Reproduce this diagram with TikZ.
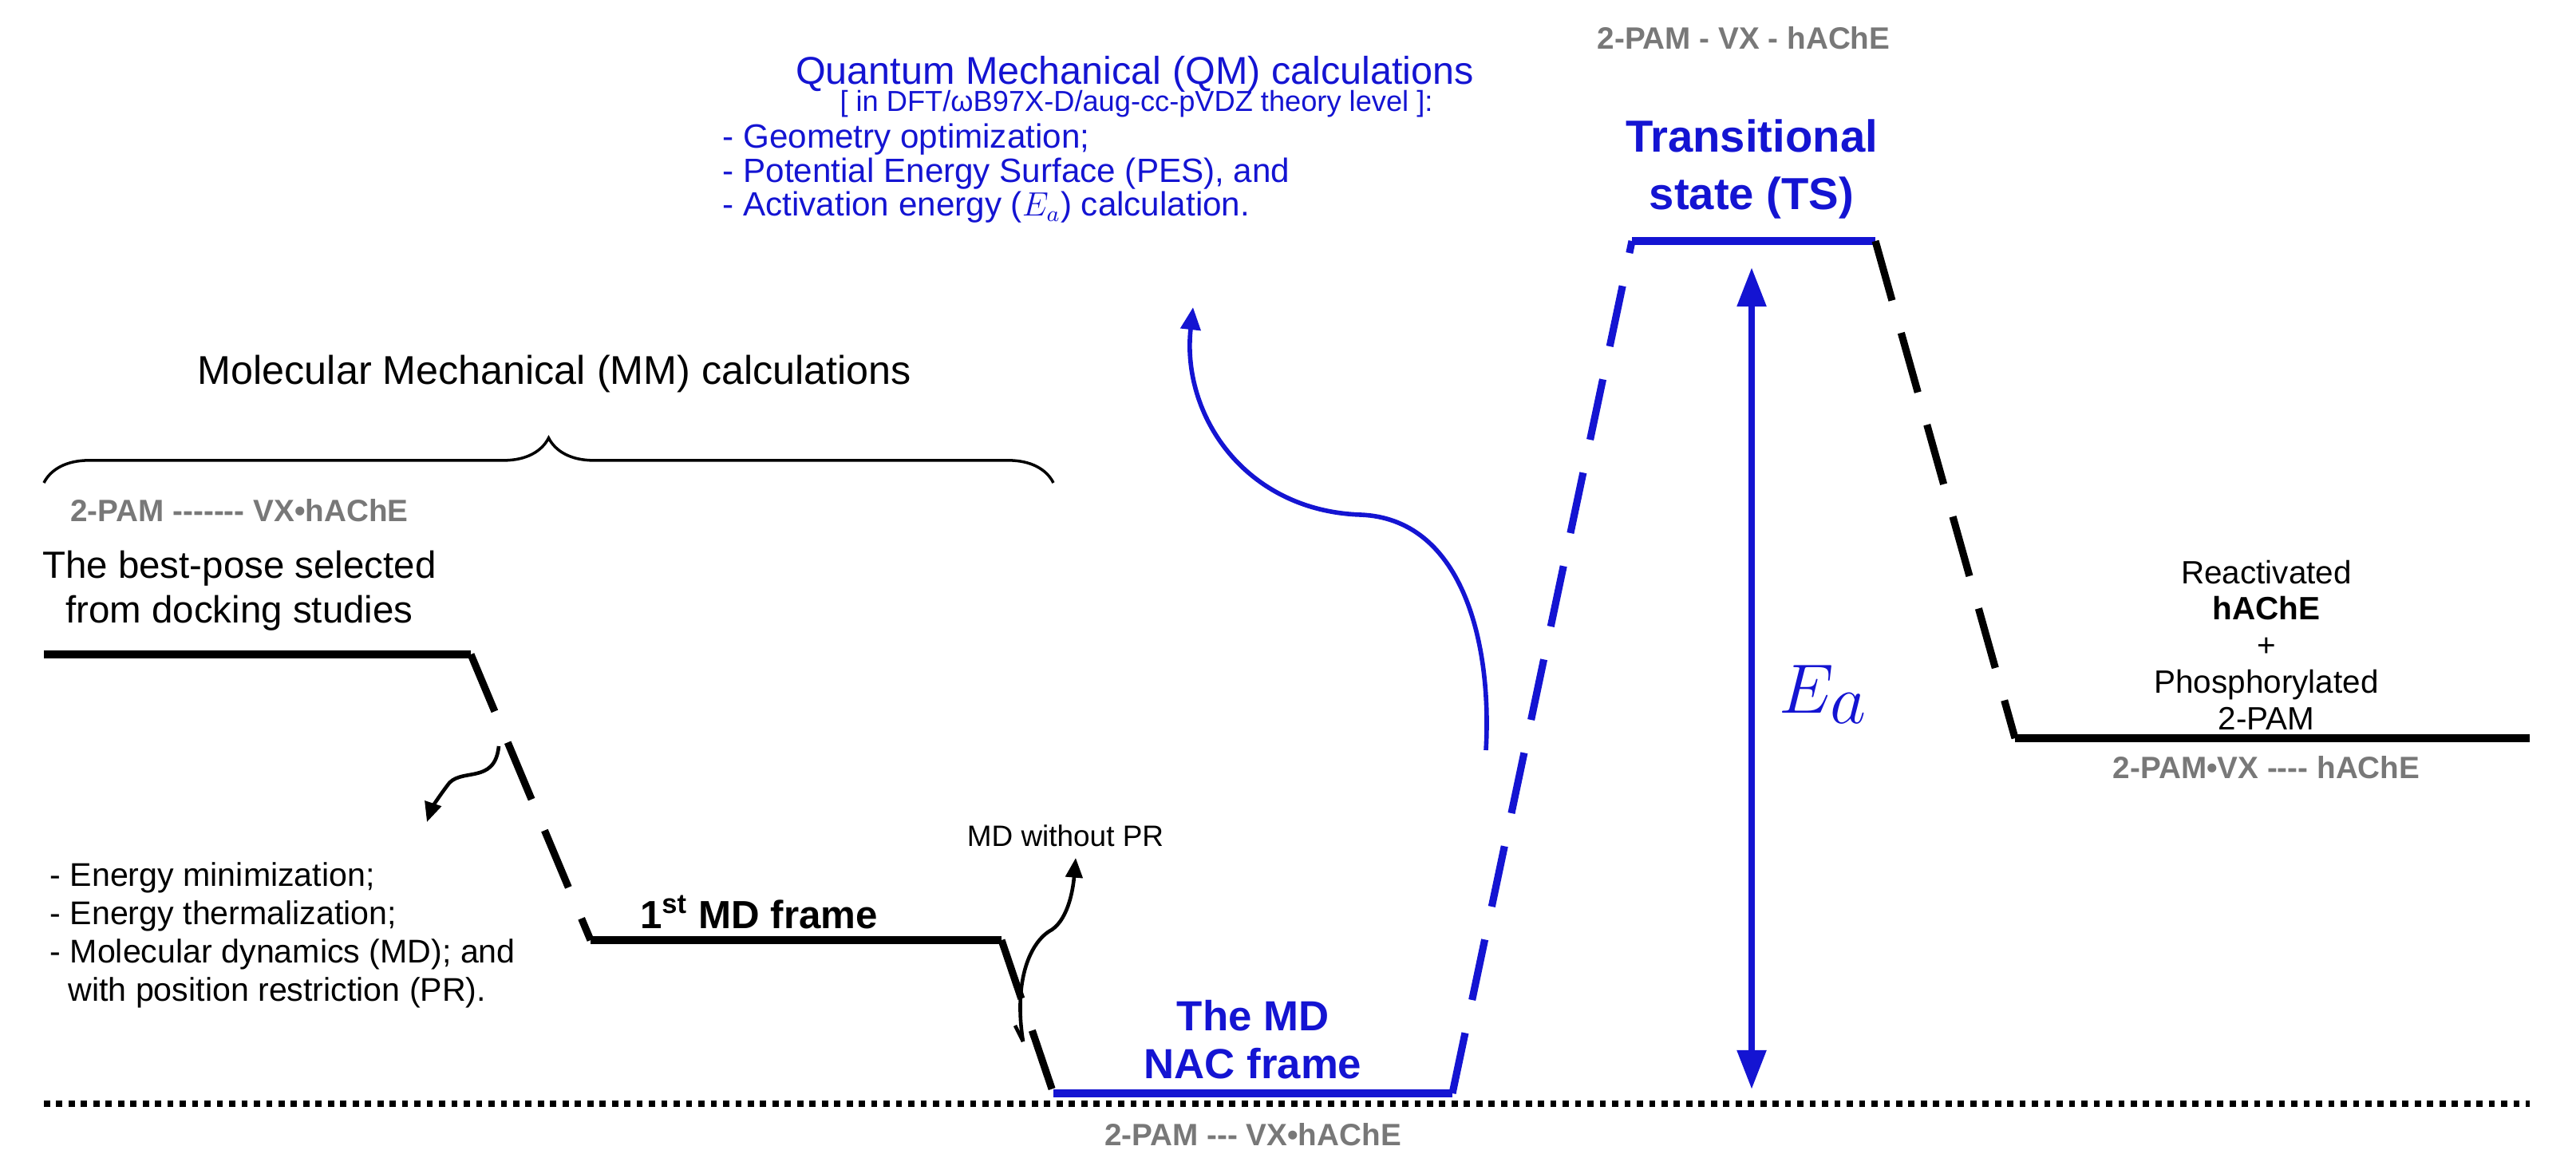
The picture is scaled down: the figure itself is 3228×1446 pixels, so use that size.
\documentclass[tikz,border=0pt]{standalone}
\usepackage{fontspec}
\setmainfont{Liberation Sans}
\usetikzlibrary{arrows.meta,decorations.pathreplacing}
\definecolor{qb}{RGB}{20,20,210}
\definecolor{gr}{RGB}{120,120,120}
\begin{document}
\begin{tikzpicture}[x=0.01cm,y=-0.01cm,
  lev/.style={line width=2.6pt},
  dsh/.style={line width=2.6pt,dash pattern=on 22pt off 12pt},
  gtxt/.style={text=gr,font=\bfseries\fontsize{11}{13}\selectfont},
  txt/.style={font=\fontsize{11}{13}\selectfont},
  every node/.style={inner sep=0pt}]
\useasboundingbox (0,0) rectangle (3228,1446);
% levels
\coordinate (a1) at (55,820); \coordinate (a2) at (590,820);
\coordinate (b1) at (740,1178); \coordinate (b2) at (1255,1178);
\coordinate (c1) at (1320,1370); \coordinate (c2) at (1820,1370);
\coordinate (d1) at (2045,302); \coordinate (d2) at (2350,302);
\coordinate (e1) at (2525,925); \coordinate (e2) at (3170,925);
\coordinate (z1) at (55,1383); \coordinate (z2) at (3170,1383);
\draw[line width=2.2pt,dash pattern=on 2.2pt off 2.2pt] (z1) -- (z2);
\draw[lev] (a1) -- (a2);
\draw[lev] (b1) -- (b2);
\draw[lev,qb] (c1) -- (c2);
\draw[lev,qb] (d1) -- (d2);
\draw[lev] (e1) -- (e2);
\draw[dsh] (a2) -- (b1);
\draw[dsh] (b2) -- (c1);
\draw[dsh,qb] (c2) -- (d1);
\draw[dsh] (d2) -- (e1);
% Ea
\coordinate (ea1) at (2195,335); \coordinate (ea2) at (2195,1365);
\draw[qb,line width=2.4pt,{Triangle[length=14pt,width=10pt]}-{Triangle[length=14pt,width=10pt]}] (ea1) -- (ea2);
\node[qb,font=\fontsize{34}{36}\selectfont] (ea) at (2285,870) {$E_a$};
% brace
\coordinate (br1) at (55,605); \coordinate (br2) at (1320,605);
\draw[decorate,decoration={brace,amplitude=16pt},line width=1pt] (br1) -- (br2);
\node[font=\fontsize{14.3}{16}\selectfont] (mm) at (695,468) {Molecular Mechanical (MM) calculations};
\node[gtxt] (g1) at (300,640) {2-PAM -{}-{}-{}-{}-{}-{}- VX•hAChE};
\node[font=\fontsize{13.5}{16}\selectfont,align=center] (bp) at (300,740) {The best-pose selected\\from docking studies};
% left curved arrow
\coordinate (s1) at (625,935);
\coordinate (t1) at (535,1030);
\draw[line width=1.3pt,-{Triangle[length=7pt,width=6pt]}] (s1) .. controls (620,985) and (575,960) .. (560,985) .. controls (545,1005) and (540,1015) .. (t1);
\node[font=\fontsize{11.7}{13.6}\selectfont,align=left,anchor=north west] (list) at (62,1080) {- Energy minimization;\\- Energy thermalization;\\- Molecular dynamics (MD); and\\\ \ with position restriction (PR).};
\node[font=\bfseries\fontsize{14}{16}\selectfont] (f1) at (951,1143) {1\textsuperscript{st} MD frame};
% MD without PR
\node[font=\fontsize{10.5}{12}\selectfont] (mdw) at (1335,1047) {MD without PR};
\coordinate (s2) at (1282,1305);
\coordinate (t2) at (1348,1075);
\draw[line width=1.3pt,-{Triangle[length=7pt,width=6pt]}] (s2) .. controls (1270,1230) and (1290,1180) .. (1318,1165) .. controls (1340,1150) and (1345,1110) .. (t2);
\draw[line width=1.3pt] (s2) -- (1272,1285);
\node[qb,font=\bfseries\fontsize{15}{17}\selectfont,align=center] (nac) at (1570,1303) {The MD\\NAC frame};
\node[gtxt] (g2) at (1570,1422) {2-PAM -{}-{}- VX•hAChE};
% QM
\node[qb,font=\fontsize{13.8}{14}\selectfont] (qm) at (1422,93) {Quantum Mechanical (QM) calculations};
\node[qb,font=\fontsize{10.3}{11}\selectfont] (qm2) at (1424,130) {[ in DFT/ωB97X-D/aug-cc-pVDZ theory level ]:};
\node[qb,font=\fontsize{12}{10.6}\selectfont,align=left,anchor=north west] (qml) at (905,154) {- Geometry optimization;\\- Potential Energy Surface (PES), and\\- Activation energy ($E_a$) calculation.};
\coordinate (s3) at (1862,940);
\coordinate (t3) at (1495,385);
\draw[qb,line width=1.6pt,-{Triangle[length=8pt,width=7pt]}] (s3) .. controls (1870,800) and (1830,650) .. (1705,645) .. controls (1560,640) and (1480,520) .. (t3);
\node[gtxt] (g3) at (2185,48) {2-PAM - VX - hAChE};
\node[qb,font=\bfseries\fontsize{16}{20.5}\selectfont,align=center] (ts) at (2195,212) {Transitional\\state (TS)};
\node[font=\fontsize{11.5}{13}\selectfont,align=center] (re) at (2840,808) {Reactivated\\\textbf{hAChE}\\+\\Phosphorylated\\2-PAM};
\node[gtxt] (g4) at (2840,962) {2-PAM•VX -{}-{}-{}- hAChE};
\end{tikzpicture}
\end{document}
